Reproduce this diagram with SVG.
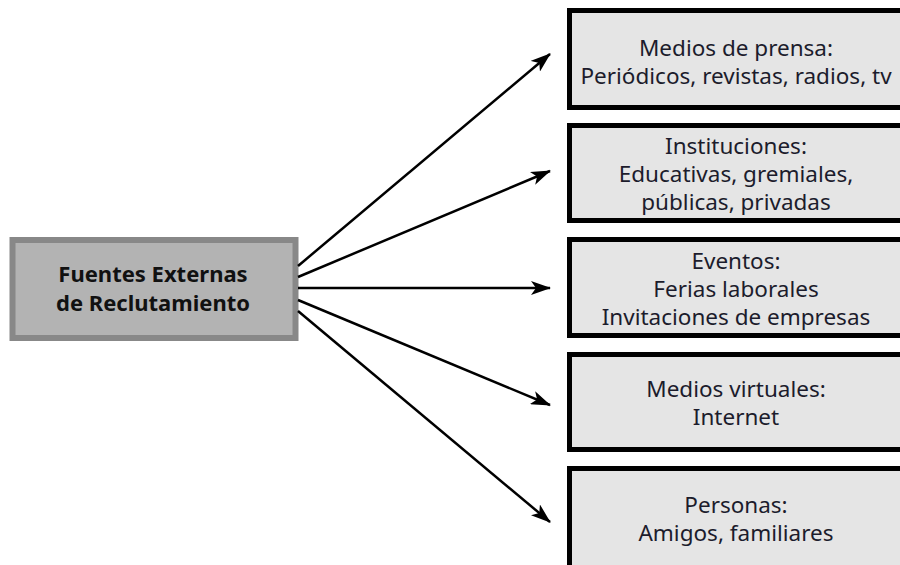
<svg xmlns="http://www.w3.org/2000/svg" width="900" height="565" viewBox="0 0 900 565">
<defs>
<marker id="ah" viewBox="0 0 20 14" refX="19" refY="7" markerWidth="20" markerHeight="14" markerUnits="userSpaceOnUse" orient="auto">
<path d="M0,0 L20,7 L0,14 L5,7 Z" fill="#000"/>
</marker>
<style>
.src rect{fill:#b3b3b3;stroke:#888;stroke-width:6}
.src text{font-family:"Noto Sans","Open Sans",sans-serif;font-weight:bold;font-size:22px;fill:#111;text-anchor:middle}
.box rect{fill:#e5e5e5;stroke:#000;stroke-width:5}
.box text{font-family:"Noto Sans","Open Sans",sans-serif;font-size:22.5px;fill:#1c1c2c;text-anchor:middle}
.conn line{stroke:#000;stroke-width:2.5;marker-end:url(#ah)}
</style>
</defs>
<rect width="900" height="565" fill="#fff"/>
<g id="source" class="src">
<rect x="12.5" y="240" width="283" height="98"/>
<text x="153" y="282">Fuentes Externas</text>
<text x="153" y="311">de Reclutamiento</text>
</g>
<g id="prensa" class="box">
<rect x="569.5" y="10.5" width="340" height="97"/>
<text x="736" y="56">Medios de prensa:</text>
<text x="736" y="84">Periódicos, revistas, radios, tv</text>
</g>
<g id="instituciones" class="box">
<rect x="569.5" y="125.5" width="340" height="95"/>
<text x="736" y="154">Instituciones:</text>
<text x="736" y="182">Educativas, gremiales,</text>
<text x="736" y="210">públicas, privadas</text>
</g>
<g id="eventos" class="box">
<rect x="569.5" y="239.5" width="340" height="96"/>
<text x="736" y="269">Eventos:</text>
<text x="736" y="297">Ferias laborales</text>
<text x="736" y="325">Invitaciones de empresas</text>
</g>
<g id="virtuales" class="box">
<rect x="569.5" y="354.5" width="340" height="95"/>
<text x="736" y="397">Medios virtuales:</text>
<text x="736" y="425">Internet</text>
</g>
<g id="personas" class="box">
<rect x="569.5" y="468.5" width="340" height="110"/>
<text x="736" y="513">Personas:</text>
<text x="736" y="541">Amigos, familiares</text>
</g>
<g id="connectors" class="conn">
<line x1="298" y1="266" x2="550" y2="54"/>
<line x1="298" y1="277" x2="550" y2="171"/>
<line x1="298" y1="288" x2="550" y2="288"/>
<line x1="298" y1="300" x2="550" y2="405"/>
<line x1="298" y1="311" x2="550" y2="522"/>
</g>
</svg>
